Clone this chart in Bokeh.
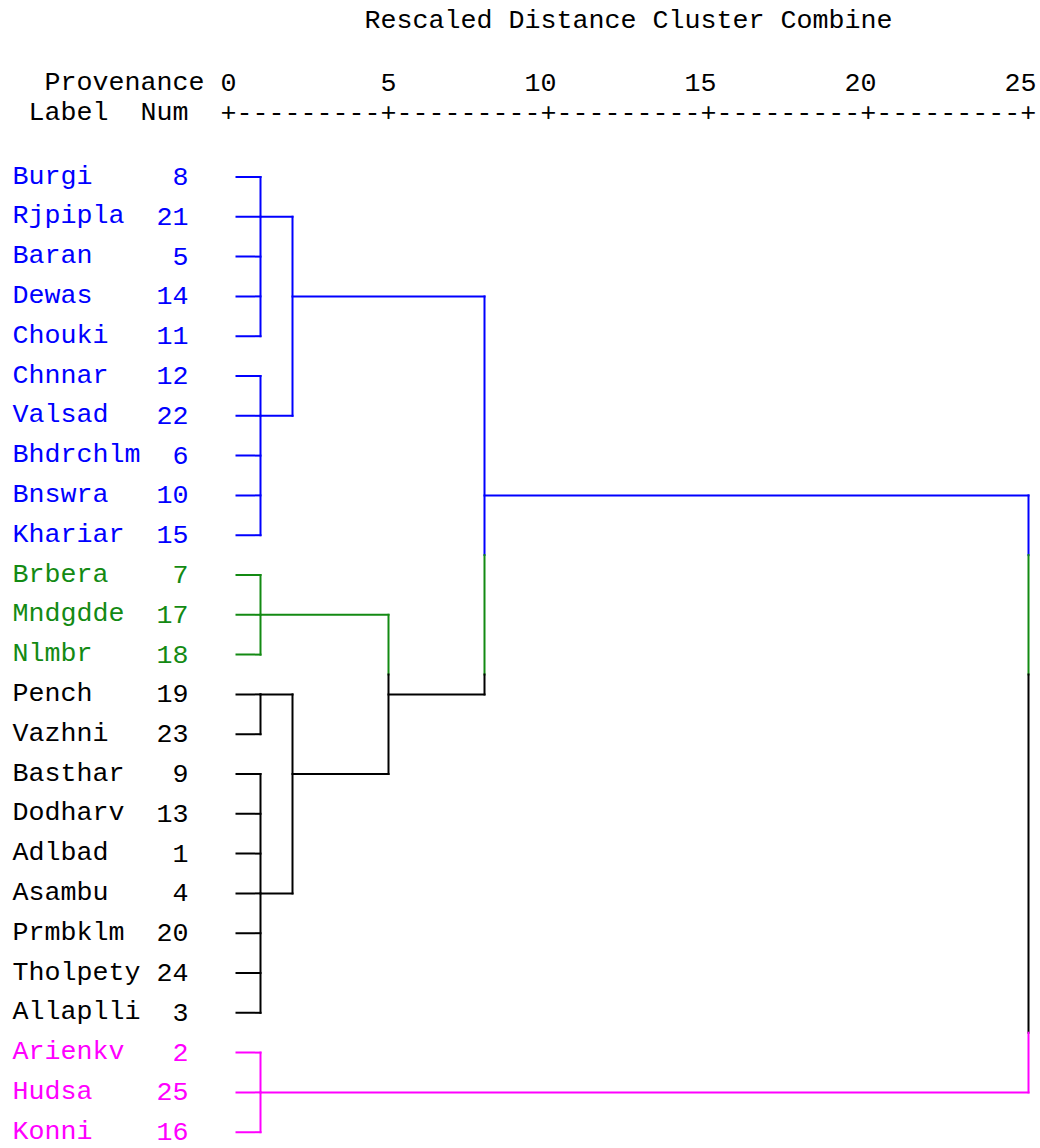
from bokeh.plotting import figure
from bokeh.models import Range1d, ColumnDataSource
from bokeh.embed import file_html
from bokeh.resources import INLINE
from bokeh.core.properties import value

# ---------------- data ----------------
labels = ["Burgi", "Rjpipla", "Baran", "Dewas", "Chouki", "Chnnar", "Valsad",
          "Bhdrchlm", "Bnswra", "Khariar", "Brbera", "Mndgdde", "Nlmbr",
          "Pench", "Vazhni", "Basthar", "Dodharv", "Adlbad", "Asambu",
          "Prmbklm", "Tholpety", "Allaplli", "Arienkv", "Hudsa", "Konni"]
nums = [8, 21, 5, 14, 11, 12, 22, 6, 10, 15, 7, 17, 18, 19, 23, 9, 13, 1, 4,
        20, 24, 3, 2, 25, 16]
groups = ["blue"] * 10 + ["green"] * 3 + ["black"] * 9 + ["magenta"] * 3

# clusters: children (leaf indices or cluster names), rescaled distance, row where it attaches
cluster_names = ["A", "B", "G", "P", "K", "M", "AB", "PK", "GPK", "ABGPK", "ALL"]
cluster_children = [[0, 1, 2, 3, 4], [5, 6, 7, 8, 9], [10, 11, 12], [13, 14],
                    [15, 16, 17, 18, 19, 20, 21], [22, 23, 24],
                    ["A", "B"], ["P", "K"], ["G", "PK"], ["AB", "GPK"], ["ABGPK", "M"]]
cluster_height = [1, 1, 1, 1, 1, 1, 2, 2, 5, 8, 25]
cluster_row = [1, 6, 11, 13, 18, 23, 3, 15, 13, 8, None]

tick_values = [0, 5, 10, 15, 20, 25]
title_text = "Rescaled Distance Cluster Combine"
header_top = "Provenance"
header_label = "Label"
header_num = "Num"

palette = {"blue": "#0000ff", "green": "#138a13", "black": "#000000", "magenta": "#ff00ff"}

# ---------------- layout ----------------
W, H = 1040, 1148
PX_PER_UNIT = 32.0
X0_PX = 228.0            # pixel of distance 0
CELL = 16.0              # monospace cell width
ROW0_PX = 176.5          # pixel of first leaf row
ROW_PX = 39.8            # row spacing
LEAF_START = 0.25        # leaf stubs start at the edge of the "+" cell
FONT = value("Liberation Mono")
FS = "26.67px"
BASE_FIX = -8.0          # renderer places alphabetic baseline ~8px low


def px_to_x(px):
    return (px - X0_PX) / PX_PER_UNIT


def cell_x(c):
    return px_to_x(12 + CELL * c)


def px_to_row(py):
    return (py - ROW0_PX) / ROW_PX


p = figure(width=W, height=H, output_backend="svg", toolbar_location=None,
           x_range=Range1d(px_to_x(0), px_to_x(W)),
           y_range=Range1d(px_to_row(H), px_to_row(0)),
           x_axis_location=None, y_axis_location=None, min_border=0)
p.outline_line_color = None
p.grid.visible = False
p.background_fill_color = "white"
p.border_fill_color = "white"

# ---------------- tree segments ----------------
height_of = {}
row_of = {}
for n, h, r in zip(cluster_names, cluster_height, cluster_row):
    height_of[n] = h
    row_of[n] = r

x0s, y0s, x1s, y1s, cols = [], [], [], [], []


def add(xa, ya, xb, yb, c):
    x0s.append(xa); y0s.append(ya); x1s.append(xb); y1s.append(yb); cols.append(c)


for name, children, h in zip(cluster_names, cluster_children, cluster_height):
    rows = []
    for ch in children:
        if isinstance(ch, int):
            r, start = ch, LEAF_START
        else:
            r, start = row_of[ch], height_of[ch]
        rows.append(r)
        add(start, r, h, r, palette[groups[r]])
    lo, hi = min(rows), max(rows)
    # vertical connector, coloured by the row band it passes through; merge equal colours
    runs = []
    for r in range(lo, hi + 1):
        a = max(lo, r - 0.5)
        b = min(hi, r + 0.5)
        if b <= a:
            continue
        c = palette[groups[r]]
        if runs and runs[-1][2] == c and abs(runs[-1][1] - a) < 1e-9:
            runs[-1][1] = b
        else:
            runs.append([a, b, c])
    for a, b, c in runs:
        add(h, a, h, b, c)

seg = ColumnDataSource(dict(x0=x0s, y0=y0s, x1=x1s, y1=y1s, c=cols))
p.segment("x0", "y0", "x1", "y1", source=seg, line_color="c", line_width=2,
          line_cap="square")

# ---------------- leaf labels ----------------
rows = list(range(len(labels)))
leaf_src = ColumnDataSource(dict(
    x=[cell_x(0)] * len(labels), xn=[cell_x(11)] * len(labels), y=rows,
    lab=labels, num=[str(n) for n in nums], c=[palette[g] for g in groups]))
p.text("x", "y", text="lab", source=leaf_src, text_color="c", text_font=FONT,
       text_font_size=FS, text_baseline="alphabetic", text_align="left",
       y_offset=7.5 + BASE_FIX)
p.text("xn", "y", text="num", source=leaf_src, text_color="c", text_font=FONT,
       text_font_size=FS, text_baseline="alphabetic", text_align="right",
       y_offset=7.5 + BASE_FIX)

# ---------------- header ----------------
def header(x, py, s, align="left"):
    p.text([x], [px_to_row(py + BASE_FIX)], text=[s], text_font=FONT,
           text_font_size=FS, text_color="black", text_baseline="alphabetic",
           text_align=align)


header(cell_x(22), 28, title_text)
header(cell_x(2), 90, header_top)
header(cell_x(1), 120, header_label)
header(cell_x(8), 120, header_num)

half_cell = CELL / 2 / PX_PER_UNIT
p.text([t + half_cell for t in tick_values], [px_to_row(90 + BASE_FIX)] * len(tick_values),
       text=[str(t) for t in tick_values], text_font=FONT, text_font_size=FS,
       text_color="black", text_baseline="alphabetic", text_align="right")

step_chars = int(round((tick_values[1] - tick_values[0]) * PX_PER_UNIT / CELL))
ruler = "".join("+" + "-" * (step_chars - 1) for _ in tick_values[:-1]) + "+"
header(tick_values[0] - half_cell, 120, ruler)

open("out.html", "w").write(file_html(p, INLINE))
